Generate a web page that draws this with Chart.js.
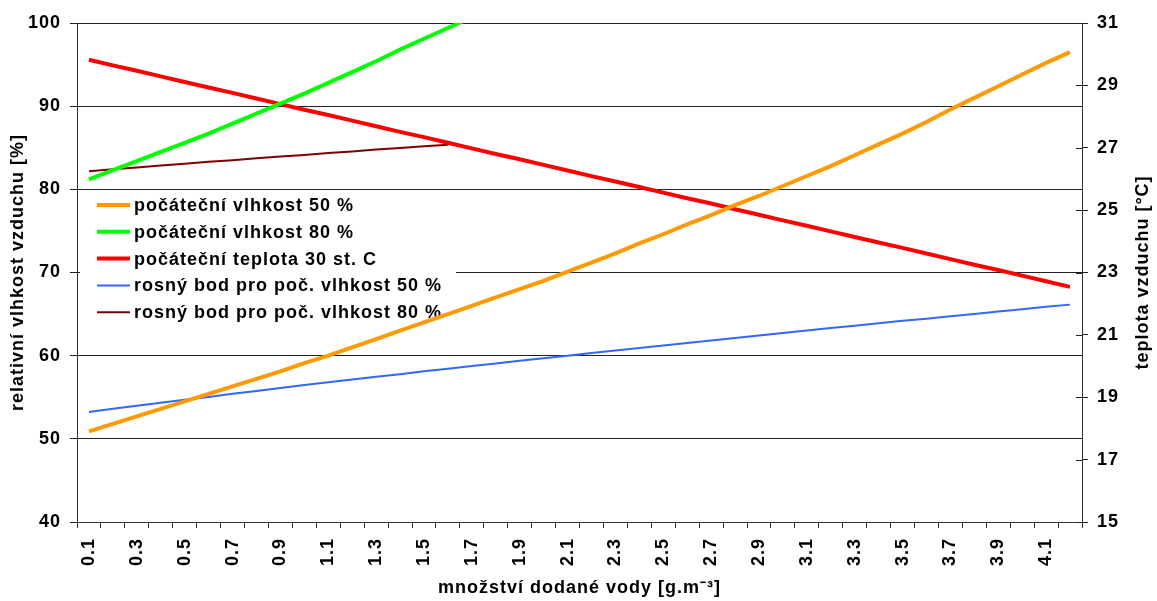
<!DOCTYPE html>
<html>
<head>
<meta charset="utf-8">
<script src="https://cdn.jsdelivr.net/npm/chart.js@4.4.1/dist/chart.umd.min.js"></script>
<style>
  html, body { margin: 0; padding: 0; background: #fff; }
  #wrap { width: 1157px; height: 601px; position: relative; }
</style>
</head>
<body>
<div id="wrap"><canvas id="graf"></canvas></div>
<script>
// množství dodané vody [g/m3]
var davka = ['0.1','0.2','0.3','0.4','0.5','0.6','0.7','0.8','0.9','1.0',
             '1.1','1.2','1.3','1.4','1.5','1.6','1.7','1.8','1.9','2.0',
             '2.1','2.2','2.3','2.4','2.5','2.6','2.7','2.8','2.9','3.0',
             '3.1','3.2','3.3','3.4','3.5','3.6','3.7','3.8','3.9','4.0',
             '4.1','4.2'];

// relativní vlhkost [%] (levá osa)
var vlhkost50 = [50.9, 51.8, 52.7, 53.6, 54.5, 55.4, 56.3, 57.2, 58.1, 59.1,
                 60.0, 61.0, 62.0, 63.0, 64.0, 65.0, 66.0, 67.0, 68.0, 69.0,
                 70.1, 71.2, 72.3, 73.5, 74.6, 75.8, 76.9, 78.1, 79.2, 80.4,
                 81.6, 82.8, 84.1, 85.4, 86.7, 88.1, 89.6, 91.0, 92.4, 93.8,
                 95.2, 96.5];
var vlhkost80 = [81.2, 82.3, 83.4, 84.5, 85.6, 86.7, 87.9, 89.1, 90.3, 91.5,
                 92.8, 94.1, 95.4, 96.8, 98.1, 99.4, 100.7];

// teploty [°C] (pravá osa)
var teplota30 = [29.82, 29.64, 29.47, 29.29, 29.11, 28.93, 28.76, 28.58, 28.40, 28.22,
                 28.05, 27.87, 27.69, 27.51, 27.34, 27.16, 26.98, 26.80, 26.63, 26.45,
                 26.27, 26.09, 25.92, 25.74, 25.56, 25.38, 25.21, 25.03, 24.85, 24.67,
                 24.50, 24.32, 24.14, 23.96, 23.79, 23.61, 23.43, 23.25, 23.08, 22.90,
                 22.72, 22.54];
var rosny50 = [18.53, 18.63, 18.73, 18.82, 18.92, 19.01, 19.11, 19.20, 19.30, 19.39,
               19.48, 19.57, 19.66, 19.74, 19.83, 19.91, 20.00, 20.08, 20.17, 20.25,
               20.33, 20.42, 20.50, 20.58, 20.66, 20.74, 20.82, 20.90, 20.98, 21.06,
               21.14, 21.22, 21.29, 21.37, 21.45, 21.52, 21.60, 21.67, 21.75, 21.82,
               21.90, 21.97];
var rosny80 = [26.25, 26.31, 26.37, 26.43, 26.49, 26.55, 26.60, 26.66, 26.72, 26.77,
               26.83, 26.88, 26.94, 26.99, 27.05, 27.10];

var nazvy = ['počáteční vlhkost 50 %', 'počáteční vlhkost 80 %', 'počáteční teplota 30 st. C',
             'rosný bod pro poč. vlhkost 50 %', 'rosný bod pro poč. vlhkost 80 %'];

var pismo = { family: "'Liberation Sans', Arial, sans-serif", size: 18, weight: 'bold' };
var pismoCss = 'bold 18px ' + pismo.family;

// roztažené písmo jako v originálu
var rozestup = {
    id: 'rozestup',
    beforeLayout: function (chart) { chart.ctx.letterSpacing = '1px'; },
    beforeDraw: function (chart) { chart.ctx.letterSpacing = '1px'; }
};

// legenda uvnitř grafu, vnitřní značky pravé osy a její popis
var legenda = {
    id: 'legenda',
    beforeDatasetsDraw: function (chart) {
        var ctx = chart.ctx;
        var area = chart.chartArea;
        ctx.save();
        ctx.fillStyle = '#fff';
        ctx.fillRect(area.left + 3, 193, 376, 131);

        ctx.font = pismoCss;
        ctx.textBaseline = 'middle';
        ctx.textAlign = 'left';
        chart.data.datasets.forEach(function (ds, i) {
            var y = 205 + i * 26.8;
            ctx.strokeStyle = ds.borderColor;
            ctx.lineWidth = ds.borderWidth;
            ctx.beginPath();
            ctx.moveTo(area.left + 20, y);
            ctx.lineTo(area.left + 53, y);
            ctx.stroke();
            ctx.fillStyle = '#000';
            ctx.fillText(ds.label, area.left + 57, y + 1);
        });

        var prava = chart.scales.y1;
        ctx.strokeStyle = '#222';
        ctx.lineWidth = 1;
        prava.ticks.forEach(function (t) {
            var py = Math.round(prava.getPixelForValue(t.value)) + 0.5;
            ctx.beginPath();
            ctx.moveTo(area.right - 6, py);
            ctx.lineTo(area.right, py);
            ctx.stroke();
        });
        ctx.restore();
    },
    afterDraw: function (chart) {
        var ctx = chart.ctx;
        var area = chart.chartArea;
        ctx.save();
        ctx.font = pismoCss;
        ctx.fillStyle = '#000';
        ctx.textAlign = 'center';
        ctx.textBaseline = 'middle';
        ctx.translate(1143, (area.top + area.bottom) / 2);
        ctx.rotate(-Math.PI / 2);
        ctx.fillText('teplota vzduchu [°C]', 0, 0);
        ctx.restore();
    }
};

var ctx = document.getElementById('graf').getContext('2d');
var graf = new Chart(ctx, {
    type: 'line',
    data: {
        labels: davka,
        datasets: [
            { label: nazvy[0], data: vlhkost50, yAxisID: 'y', borderColor: '#FF9900', borderWidth: 4 },
            { label: nazvy[1], data: vlhkost80, yAxisID: 'y', borderColor: '#00FF00', borderWidth: 4 },
            { label: nazvy[2], data: teplota30, yAxisID: 'y1', borderColor: '#FF0000', borderWidth: 4 },
            { label: nazvy[3], data: rosny50, yAxisID: 'y1', borderColor: '#3366FF', borderWidth: 2 },
            { label: nazvy[4], data: rosny80, yAxisID: 'y1', borderColor: '#800000', borderWidth: 2 }
        ]
    },
    options: {
        responsive: true,
        maintainAspectRatio: false,
        animation: false,
        layout: { padding: { top: 23, left: 0, right: 0, bottom: 0 } },
        elements: {
            point: { radius: 0 },
            line: { tension: 0, borderCapStyle: 'butt' }
        },
        plugins: {
            legend: { display: false },
            tooltip: { enabled: false }
        },
        scales: {
            x: {
                offset: true,
                grid: { offset: true, drawOnChartArea: false, tickLength: 6, color: '#333' },
                border: { color: '#333' },
                ticks: {
                    autoSkip: false,
                    minRotation: 90,
                    maxRotation: 90,
                    padding: 10,
                    color: '#000',
                    font: pismo,
                    callback: function (val, i) { return i % 2 === 0 ? davka[i] : ''; }
                },
                title: {
                    display: true,
                    text: 'množství dodané vody [g.m⁻³]',
                    color: '#000',
                    font: pismo,
                    padding: { top: 0, bottom: 2 }
                },
                afterFit: function (s) { s.height = 79; }
            },
            y: {
                position: 'left',
                min: 40,
                max: 100,
                ticks: { stepSize: 10, padding: 9, color: '#000', font: pismo },
                grid: { color: '#222', lineWidth: 1, tickLength: 7 },
                border: { color: '#333' },
                title: {
                    display: true,
                    text: 'relativní vlhkost vzduchu [%]',
                    color: '#000',
                    font: pismo,
                    padding: { top: 7, bottom: 0 }
                },
                afterFit: function (s) { s.width = 77; }
            },
            y1: {
                position: 'right',
                min: 15,
                max: 31,
                ticks: { stepSize: 2, padding: 9, color: '#000', font: pismo },
                grid: { drawOnChartArea: false, tickLength: 6, color: '#222' },
                border: { color: '#333' },
                afterFit: function (s) { s.width = 75; }
            }
        }
    },
    plugins: [rozestup, legenda]
});
</script>
</body>
</html>
